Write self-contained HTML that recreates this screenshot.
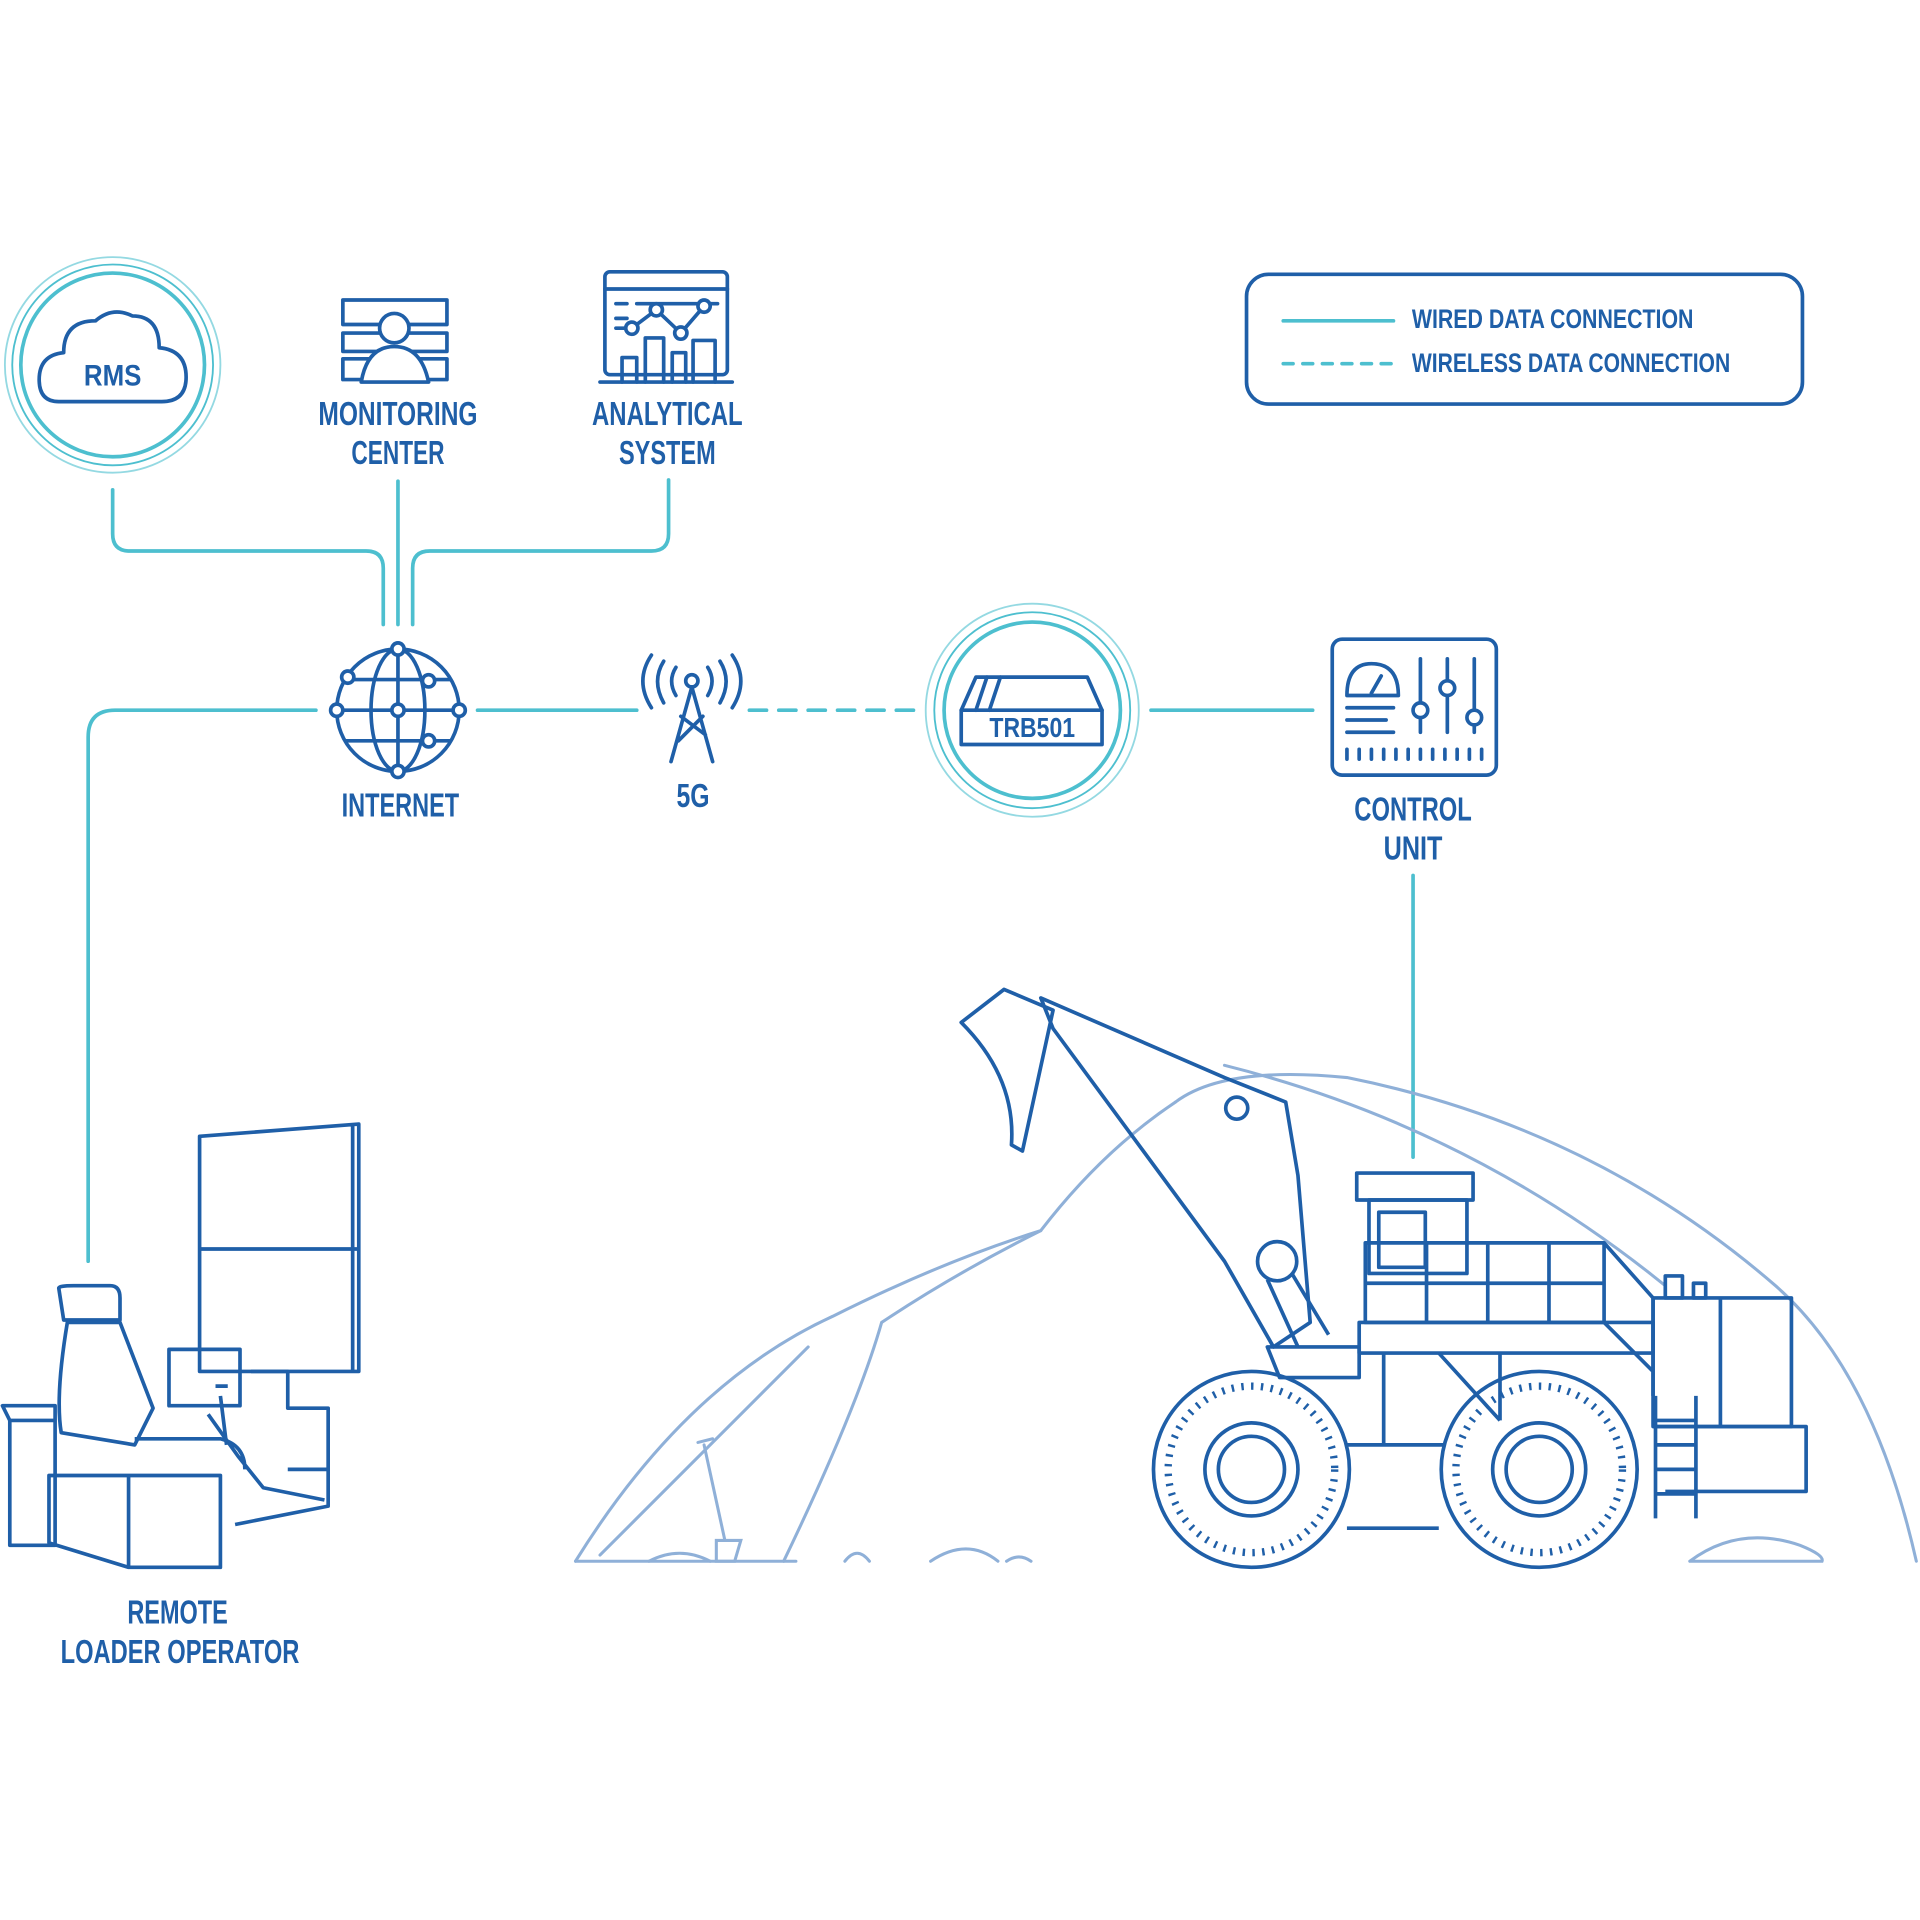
<!DOCTYPE html>
<html><head><meta charset="utf-8"><style>
html,body{margin:0;padding:0;background:#fff;}
svg{display:block;}
text{font-family:"Liberation Sans",sans-serif;font-weight:bold;fill:#1f5fa8;text-anchor:middle;}
</style></head><body>
<svg width="1920" height="1920" viewBox="0 0 1568 1568" xmlns="http://www.w3.org/2000/svg">
<rect width="1568" height="1568" fill="#fff"/>
<g fill="none" stroke="#4dbfcf" stroke-width="3" stroke-linecap="round">
  <path d="M92 400 V436 Q92 450 106 450 H299 Q313 450 313 464 V510"/>
  <path d="M325 393 V510"/>
  <path d="M546 392 V436 Q546 450 532 450 H351 Q337 450 337 464 V510"/>
  <path d="M258 580 H94 Q72 580 72 602 V1030"/>
  <path d="M390 580 H520"/>
  <path d="M612 580 H750" stroke-dasharray="14 10"/>
  <path d="M940 580 H1072"/>
  <path d="M1154 715 V945"/>
  <path d="M1048 262 H1138"/>
  <path d="M1048 297 H1138" stroke-dasharray="8 8"/>
  <circle cx="92" cy="298" r="88" stroke-width="1.5" opacity=".6"/>
  <circle cx="92" cy="298" r="82" stroke-width="1.5"/>
  <circle cx="92" cy="298" r="75"/>
  <circle cx="843" cy="580" r="87" stroke-width="1.5" opacity=".6"/>
  <circle cx="843" cy="580" r="80" stroke-width="1.5"/>
  <circle cx="843" cy="580" r="72"/>
</g>
<g fill="none" stroke="#1f5fa8" stroke-width="3" stroke-linejoin="round" stroke-linecap="round">
  <rect x="1018" y="224" width="454" height="106" rx="18"/>
  <path d="M48 328 Q32 328 32 310 Q32 290 52 288 Q52 262 78 262 Q92 250 108 258 Q130 258 130 284 Q152 286 152 308 Q152 328 132 328 Z"/>
  <rect x="280" y="245" width="85" height="20"/><rect x="280" y="272" width="85" height="15"/><rect x="280" y="293" width="85" height="17"/>
  <circle cx="322" cy="268" r="12" fill="#fff"/>
  <path d="M295 312 Q300 283 322 283 Q344 283 350 312 Z" fill="#fff"/>
  <rect x="494" y="222" width="100" height="84" rx="4"/>
  <path d="M494 236 H594 M490 312 H598 M503 248 H512 M520 248 H586 M503 260 H512 M503 268 H512"/>
  <path d="M516 268 L536 253 L556 272 L575 250"/>
  <circle cx="516" cy="268" r="5" fill="#fff"/><circle cx="536" cy="253" r="5" fill="#fff"/><circle cx="556" cy="272" r="5" fill="#fff"/><circle cx="575" cy="250" r="5" fill="#fff"/>
  <path d="M508 312 V292 H520 V312 M527 312 V276 H542 V312 M549 312 V288 H560 V312 M566 312 V278 H584 V312"/>
  <circle cx="325" cy="580" r="50"/>
  <ellipse cx="325" cy="580" rx="22" ry="50"/>
  <path d="M325 530 V630 M282 555 H368 M275 580 H375 M282 605 H368"/>
  <g fill="#fff"><circle cx="325" cy="530" r="5"/><circle cx="325" cy="630" r="5"/><circle cx="325" cy="580" r="5"/><circle cx="275" cy="580" r="5"/><circle cx="375" cy="580" r="5"/><circle cx="284" cy="553" r="5"/><circle cx="350" cy="556" r="5"/><circle cx="350" cy="605" r="5"/></g>
  <circle cx="565" cy="556" r="5"/>
  <path d="M565 561 L548 622 M565 561 L582 622 M556 585 L576 600 M574 585 L554 605"/>
  <path d="M552 545 Q545 556 552 568 M578 545 Q585 556 578 568 M542 540 Q532 556 542 574 M588 540 Q598 556 588 574 M532 535 Q518 556 532 578 M598 535 Q612 556 598 578"/>
  <path d="M785 580 L797 553 H888 L900 580"/>
  <rect x="785" y="580" width="115" height="28"/>
  <path d="M797 580 L806 553 M808 580 L817 553"/>
  <rect x="1088" y="522" width="134" height="111" rx="8"/>
  <path d="M1100 568 Q1100 542 1120 542 Q1142 542 1142 568 Z M1120 566 L1128 552"/>
  <path d="M1100 578 H1138 M1100 588 H1132 M1100 598 H1138"/>
  <path d="M1160 538 V598 M1182 538 V598 M1204 538 V598"/>
  <g fill="#fff"><circle cx="1160" cy="580" r="6"/><circle cx="1182" cy="562" r="6"/><circle cx="1204" cy="586" r="6"/></g>
  <path d="M1100 612 V620 M1110 612 V620 M1120 612 V620 M1130 612 V620 M1140 612 V620 M1150 612 V620 M1160 612 V620 M1170 612 V620 M1180 612 V620 M1190 612 V620 M1200 612 V620 M1210 612 V620"/>
</g>
<g fill="none" stroke="#8fb0d8" stroke-width="2.5" stroke-linecap="round">
  <path d="M470 1275 Q560 1130 680 1075 Q770 1030 850 1005 Q900 940 960 900"/>
  <path d="M490 1270 Q600 1160 660 1100"/>
  <path d="M640 1275 Q700 1150 720 1080 Q780 1040 850 1005"/>
  <path d="M960 900 Q1000 870 1100 880 Q1300 920 1450 1050 Q1530 1120 1565 1275"/>
  <path d="M1000 870 Q1200 920 1360 1050"/>
  <path d="M470 1275 H650 M690 1275 Q700 1262 710 1275 M760 1275 Q790 1255 815 1275 M822 1275 Q832 1268 842 1275 M1380 1275 Q1420 1245 1470 1262 Q1490 1270 1488 1275 H1380"/>
  <path d="M575 1180 L592 1258 M570 1178 L582 1175 M585 1258 L605 1258 L600 1275 L585 1275 Z"/>
  <path d="M530 1275 Q555 1262 580 1275"/>
</g>
<g fill="none" stroke="#1f5fa8" stroke-width="3" stroke-linejoin="round">
  <path d="M785 835 L820 808 L860 825 L835 940 L826 935 Q830 880 785 835 Z"/>
  <path d="M850 815 L1000 880 L1050 900 L1060 960 L1070 1080 L1040 1100 L1000 1030 L860 840 Z"/>
  <circle cx="1010" cy="905" r="9"/>
  <circle cx="1043" cy="1030" r="16"/>
  <path d="M1035 1045 L1060 1100 M1055 1040 L1085 1090"/>
  <path d="M1035 1100 H1110 V1125 H1045 Z"/>
  <rect x="1108" y="958" width="95" height="22"/>
  <rect x="1118" y="980" width="80" height="60"/>
  <rect x="1126" y="990" width="38" height="45"/>
  <path d="M1115 1015 H1310 V1080 H1115 Z M1165 1015 V1080 M1215 1015 V1080 M1265 1015 V1080 M1115 1048 H1310"/>
  <path d="M1310 1015 L1350 1060 V1140 M1310 1080 L1350 1120"/>
  <path d="M1110 1080 H1350 V1105 H1110 Z"/>
  <path d="M1130 1105 V1180 M1175 1105 L1225 1160 M1225 1105 V1160"/>
  <rect x="1350" y="1060" width="113" height="105"/>
  <path d="M1405 1060 V1165 M1350 1165 H1475 V1218 H1360"/>
  <rect x="1360" y="1042" width="14" height="18"/><rect x="1383" y="1048" width="10" height="12"/>
  <path d="M1352 1140 V1240 M1385 1140 V1240 M1352 1160 H1385 M1352 1180 H1385 M1352 1200 H1385 M1352 1220 H1385"/>
  <path d="M1100 1180 H1180 M1100 1248 H1175"/>
  <circle cx="1022" cy="1200" r="80"/><circle cx="1022" cy="1200" r="68" stroke-dasharray="2 6" stroke-width="6"/>
  <circle cx="1022" cy="1200" r="38"/><circle cx="1022" cy="1200" r="27"/>
  <circle cx="1257" cy="1200" r="80"/><circle cx="1257" cy="1200" r="68" stroke-dasharray="2 6" stroke-width="6"/>
  <circle cx="1257" cy="1200" r="38"/><circle cx="1257" cy="1200" r="27"/>
  <path d="M163 928 L293 918 V1120 L163 1120 Z M163 1020 H293 M288 918 V1120"/>
  <path d="M205 1120 H235 V1150 H268 V1230 L192 1245 M235 1200 H268"/>
  <path d="M138 1102 H196 V1148 H138 Z"/>
  <path d="M48 1052 Q48 1050 60 1050 H90 Q98 1050 98 1060 V1078 H52 Z"/>
  <path d="M55 1080 Q45 1140 50 1170 L110 1180 L125 1150 L98 1080 Z"/>
  <path d="M40 1205 H180 V1280 H105 L40 1260 Z M105 1205 V1280"/>
  <path d="M110 1175 H180 Q200 1180 200 1200 M170 1155 L195 1190 L215 1215 L265 1225"/>
  <path d="M2 1148 H45 V1262 H8 V1160 Z M8 1160 H45"/>
  <path d="M180 1140 L185 1180 M176 1132 h10"/>
</g>
<g lengthAdjust="spacingAndGlyphs">
<text x="92" y="315" font-size="24" textLength="47" lengthAdjust="spacingAndGlyphs">RMS</text>
<text x="325" y="347" font-size="27" textLength="130" lengthAdjust="spacingAndGlyphs">MONITORING</text>
<text x="325" y="379" font-size="27" textLength="76" lengthAdjust="spacingAndGlyphs">CENTER</text>
<text x="545" y="347" font-size="27" textLength="123" lengthAdjust="spacingAndGlyphs">ANALYTICAL</text>
<text x="545" y="379" font-size="27" textLength="79" lengthAdjust="spacingAndGlyphs">SYSTEM</text>
<text x="327" y="667" font-size="27" textLength="96" lengthAdjust="spacingAndGlyphs">INTERNET</text>
<text x="566" y="659" font-size="27" textLength="27" lengthAdjust="spacingAndGlyphs">5G</text>
<text x="843" y="602" font-size="23" textLength="70" lengthAdjust="spacingAndGlyphs">TRB501</text>
<text x="1154" y="670" font-size="27" textLength="96" lengthAdjust="spacingAndGlyphs">CONTROL</text>
<text x="1154" y="702" font-size="27" textLength="48" lengthAdjust="spacingAndGlyphs">UNIT</text>
<text x="145" y="1326" font-size="27" textLength="82" lengthAdjust="spacingAndGlyphs">REMOTE</text>
<text x="147" y="1358" font-size="27" textLength="195" lengthAdjust="spacingAndGlyphs">LOADER OPERATOR</text>
<text x="1153" y="268" font-size="22" style="text-anchor:start" textLength="230" lengthAdjust="spacingAndGlyphs">WIRED DATA CONNECTION</text>
<text x="1153" y="304" font-size="22" style="text-anchor:start" textLength="260" lengthAdjust="spacingAndGlyphs">WIRELESS DATA CONNECTION</text>
</g>
</svg>
</body></html>
